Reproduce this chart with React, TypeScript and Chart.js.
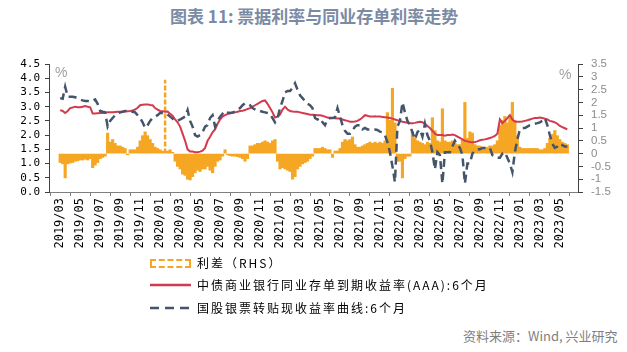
import React, { useEffect, useRef } from 'react';
import { Chart, registerables } from 'chart.js';

Chart.register(...registerables);

// x positions: quarter-month periods starting 2019/03
const PERIODS_PER_MONTH = 4;

const tickLabels = [
  '2019/03', '2019/05', '2019/07', '2019/09', '2019/11',
  '2020/01', '2020/03', '2020/05', '2020/07', '2020/09', '2020/11',
  '2021/01', '2021/03', '2021/05', '2021/07', '2021/09', '2021/11',
  '2022/01', '2022/03', '2022/05', '2022/07', '2022/09', '2022/11',
  '2023/01', '2023/03', '2023/05',
];

// 中债商业银行同业存单到期收益率(AAA):6个月 (%), 4 points per month
const cdRate = [
  2.88, 2.85, 2.78, 2.85, // 2019/03
  2.95, 2.97, 3.0, 2.98,
  2.98, 3.0, 3.02, 3.0,
  2.98, 2.76, 2.76, 2.77,
  2.78, 2.78, 2.79, 2.8,
  2.8, 2.8, 2.81, 2.82,
  2.82, 2.82, 2.83, 2.84,
  2.85, 2.87, 2.9, 2.96,
  3.05, 3.07, 3.08, 3.08,
  3.06, 3.05, 2.95, 2.9,
  2.85, 2.84, 2.82, 2.83, // 2020/01
  2.75, 2.68, 2.55, 2.45,
  2.3, 2.05, 1.8, 1.5,
  1.42, 1.42, 1.4, 1.4,
  1.42, 1.45, 1.55, 1.8,
  1.94, 2.1, 2.2, 2.4,
  2.55, 2.65, 2.7, 2.74,
  2.77, 2.78, 2.8, 2.82,
  2.85, 2.86, 2.88, 2.92,
  2.95, 3.0, 3.05, 3.1,
  3.15, 3.2, 3.22, 3.1,
  2.95, 2.8, 2.62, 2.65,
  2.72, 2.9, 3.0, 2.9, // 2021/01
  2.85, 2.83, 2.82, 2.82,
  2.8, 2.78, 2.76, 2.74,
  2.72, 2.72, 2.71, 2.7,
  2.7, 2.68, 2.65, 2.62,
  2.6, 2.6, 2.59, 2.58,
  2.58, 2.55, 2.52, 2.5,
  2.47, 2.47, 2.48, 2.5,
  2.55, 2.62, 2.7, 2.68,
  2.65, 2.65, 2.66, 2.65,
  2.65, 2.64, 2.63, 2.62,
  2.6, 2.58, 2.55, 2.52,
  2.5, 2.47, 2.45, 2.43, // 2022/01
  2.42, 2.42, 2.43, 2.45,
  2.47, 2.45, 2.4, 2.32,
  2.25, 2.15, 2.05, 2.0,
  2.0, 2.0, 1.98, 2.0,
  2.0, 2.02, 2.0, 1.95,
  1.9, 1.85, 1.8, 1.78,
  1.76, 1.75, 1.76, 1.78,
  1.82, 1.84, 1.85, 1.87,
  1.9, 1.93, 1.97, 2.05,
  2.55, 2.42, 2.5, 2.6,
  2.7, 2.55, 2.48, 2.47,
  2.47, 2.48, 2.5, 2.52, // 2023/01
  2.55, 2.58, 2.6, 2.6,
  2.62, 2.6, 2.58, 2.55,
  2.5, 2.48, 2.45, 2.4,
  2.32, 2.28, 2.24, 2.2,
];

// 国股银票转贴现收益率曲线:6个月 (%)
const billRate = [
  3.3, 3.28, 3.7, 3.35, // 2019/03
  3.35, 3.35, 3.33, 3.3,
  3.25, 3.22, 3.2, 3.2,
  3.18, 3.2, 3.25, 3.1,
  2.85, 2.82, 2.8, 2.3,
  2.5, 2.6, 2.7, 2.75,
  2.8, 2.82, 2.85, 2.85,
  2.85, 2.82, 2.8, 2.7,
  2.6, 2.45, 2.25, 2.35,
  2.5, 2.6, 2.65, 2.7,
  2.78, 2.78, 2.78, 2.72, // 2020/01
  2.65, 2.58, 2.5, 2.5,
  2.55, 2.6, 2.65, 2.88,
  2.5, 2.3, 2.0, 1.95,
  2.0, 2.1, 2.3, 2.35,
  2.6, 2.7, 2.3, 2.5,
  2.65, 2.75, 2.85, 2.8,
  2.78, 2.8, 2.82, 2.88,
  2.95, 3.05, 3.12, 3.1,
  3.05, 2.95, 2.9, 2.85,
  2.85, 2.82, 2.8, 2.78,
  2.75, 2.6, 2.45, 2.6,
  2.95, 3.2, 3.5, 3.55, // 2021/01
  3.55, 3.65, 3.82, 3.6,
  3.4, 3.3, 3.2, 3.1,
  3.05, 2.95, 2.6, 2.55,
  2.6, 2.45, 2.35, 2.55,
  2.6, 2.6, 2.62, 2.95,
  2.65, 2.35, 2.15, 2.05,
  2.05, 2.15, 2.3, 2.35,
  2.35, 2.2, 2.25, 2.2,
  2.2, 2.2, 2.2, 2.18,
  2.12, 2.1, 2.0, 1.75,
  1.4, 0.9, 0.35, 2.3,
  2.5, 3.15, 2.8, 2.5, // 2022/01
  2.35, 2.1, 1.85, 2.1,
  2.2, 1.95, 2.4, 2.0,
  1.8, 1.4, 0.8, 1.4,
  1.3, 0.3, 1.4, 1.4,
  1.4, 1.6, 1.8, 1.65,
  1.55, 1.3, 0.3, 1.0,
  1.0, 1.35, 1.45, 1.5,
  1.5, 1.55, 1.55, 1.55,
  1.55, 1.3, 1.25, 1.2,
  1.2, 1.35, 1.4, 1.2,
  1.0, 0.7, 1.4, 1.85,
  2.2, 2.25, 2.25, 2.3, // 2023/01
  2.35, 2.38, 2.4, 2.42,
  2.45, 2.5, 2.6, 2.35,
  2.0, 1.7, 1.55, 1.6,
  1.7, 1.65, 1.6, 1.6,
];

// 利差 (RHS, %)
const spread = [
  -0.35, -0.4, -0.95, -0.4, // 2019/03
  -0.37, -0.35, -0.3, -0.28,
  -0.25, -0.25, -0.22, -0.25,
  -0.2, -0.55, -0.45, -0.35,
  -0.2, -0.15, -0.1, 0.8,
  0.45, 0.55, 0.4, 0.3,
  0.3, 0.25, 0.2, -0.05,
  0.15, 0.15, 0.15, 0.25,
  0.5, 0.7, 0.85, 0.7,
  0.55, 0.4, 0.25, 0.2,
  0.15, 0.1, 2.88, 0.1, // 2020/01
  0.15, 0.05, -0.3, -0.5,
  -0.6, -0.8, -0.85, -1.0,
  -1.03, -0.9, -0.75, -0.65,
  -0.7, -0.6, -0.6, -0.5,
  -0.65, -0.75, -0.5, -0.3,
  -0.25, -0.1, 0.15, -0.05,
  -0.08, -0.1, -0.1, -0.12,
  -0.15, -0.2, -0.3, -0.2,
  0.3, 0.3, 0.35, 0.4,
  0.4, 0.45, 0.5, 0.45,
  0.4, 0.5, 0.55, -0.3,
  -0.6, -0.55, -0.6, -0.65, // 2021/01
  -0.7, -1.0, -0.9, -0.6,
  -0.5, -0.4, -0.35, -0.3,
  -0.2, -0.1, 0.2, 0.2,
  0.2, 0.25, 0.2, 0.15,
  0.15, -0.15, 0.1, 0.1,
  0.2, 0.45, 0.55, 0.5,
  0.55, 0.65, 0.35, 0.25,
  0.25, 0.3, 0.35, 0.4,
  0.45, 0.4, 0.45, 0.4,
  0.45, 0.4, 0.5, 1.6,
  1.3, 2.55, 1.2, -0.3,
  -0.3, -0.95, -0.2, -0.1, // 2022/01
  -0.1, 0.85, 0.6, 0.5,
  0.45, 0.4, 0.35, 0.45,
  0.4, 1.4, 0.9, 0.5,
  0.45, 1.75, 0.5, 0.45,
  0.45, 0.5, 0.4, 0.35,
  0.35, 0.55, 2.0, 0.6,
  0.85, 0.8, 0.35, 0.3,
  0.3, 0.25, 0.25, 0.25,
  0.3, 0.3, 0.35, 0.5,
  1.1, 1.3, 1.45, 1.2,
  1.5, 2.0, 1.3, 0.7,
  0.25, 0.2, 0.2, 0.2, // 2023/01
  0.2, 0.2, 0.2, 0.2,
  0.15, 0.15, 0.2, 0.4,
  0.6, 0.75, 0.9, 0.7,
  0.55, 0.45, 0.4, 0.35,
];

const ORANGE = '#f5a623';
const RED = '#d43a4e';
const BLUE = '#44546a';
const SPIKE_LIMIT = 2.7; // isolated spike drawn as dashed bar

const toPoints = (arr: number[]) => arr.map((v, i) => ({ x: i / PERIODS_PER_MONTH, y: v }));

export default function App() {
  const ref = useRef<HTMLCanvasElement>(null);

  useEffect(() => {
    if (!ref.current) return;
    const spikeIdx = spread.findIndex((v) => v > SPIKE_LIMIT);
    const spikeData =
      spikeIdx >= 0
        ? [
            { x: spikeIdx / PERIODS_PER_MONTH, y: 0 },
            { x: spikeIdx / PERIODS_PER_MONTH, y: spread[spikeIdx] },
          ]
        : [];
    const chart = new Chart(ref.current, {
      type: 'bar',
      data: {
        datasets: [
          {
            type: 'line',
            label: 'spike',
            data: spikeData,
            yAxisID: 'y1',
            borderColor: ORANGE,
            borderWidth: 2.5,
            borderDash: [5, 2],
            pointRadius: 0,
            order: 4,
          } as any,
          {
            type: 'bar',
            label: '利差（RHS）',
            data: toPoints(spread),
            yAxisID: 'y1',
            backgroundColor: (ctx: any) =>
              ctx.raw && ctx.raw.y > SPIKE_LIMIT ? 'rgba(0,0,0,0)' : ORANGE,
            borderWidth: 0,
            barPercentage: 1,
            categoryPercentage: 1,
            order: 3,
          },
          {
            type: 'line',
            label: '中债商业银行同业存单到期收益率(AAA):6个月',
            data: toPoints(cdRate),
            yAxisID: 'y',
            borderColor: RED,
            borderWidth: 2,
            pointRadius: 0,
            tension: 0,
            order: 2,
          } as any,
          {
            type: 'line',
            label: '国股银票转贴现收益率曲线:6个月',
            data: toPoints(billRate),
            yAxisID: 'y',
            borderColor: BLUE,
            borderWidth: 2.5,
            borderDash: [8, 5],
            pointRadius: 0,
            tension: 0,
            order: 1,
          } as any,
        ],
      },
      options: {
        responsive: false,
        animation: false,
        layout: { padding: { top: 64, left: 0, right: 0, bottom: 0 } },
        plugins: { legend: { display: false }, tooltip: { enabled: false } },
        scales: {
          x: {
            type: 'linear',
            min: -0.1,
            max: 50.8,
            ticks: {
              stepSize: 2,
              includeBounds: false,
              autoSkip: false,
              maxRotation: 90,
              minRotation: 90,
              padding: 2,
              color: '#000',
              font: { family: 'DejaVu Sans Mono', size: 12 },
              callback: (v: any) => tickLabels[Math.round(Number(v) / 2)] ?? '',
            },
            grid: { drawOnChartArea: false, tickLength: 4, color: '#7f7f7f' },
            border: { color: '#7f7f7f' },
            afterFit: (s: any) => {
              s.height = 68;
            },
          },
          y: {
            position: 'left',
            min: 0,
            max: 4.5,
            ticks: {
              stepSize: 0.5,
              autoSkip: false,
              padding: 5,
              color: '#000',
              font: { family: 'DejaVu Sans Mono', size: 11 },
              callback: (v: any) => Number(v).toFixed(1),
            },
            grid: { drawOnChartArea: false, tickLength: 4, color: '#404040' },
            border: { color: '#404040' },
            afterFit: (s: any) => {
              s.width = 49;
            },
          },
          y1: {
            position: 'right',
            min: -1.5,
            max: 3.5,
            ticks: {
              stepSize: 0.5,
              autoSkip: false,
              padding: 8,
              color: '#8c8c8c',
              font: { family: 'Liberation Sans', size: 11.5 },
              callback: (v: any) => String(Math.round(Number(v) * 10) / 10),
            },
            grid: { drawOnChartArea: false, tickLength: 5, color: '#404040' },
            border: { color: '#404040' },
            afterFit: (s: any) => {
              s.width = 49;
            },
          },
        },
      } as any,
    });
    return () => chart.destroy();
  }, []);

  const legendText: React.CSSProperties = {
    position: 'absolute',
    left: 197,
    fontFamily: '"Noto Sans CJK SC", sans-serif',
    fontSize: 12,
    letterSpacing: 2,
    color: '#000',
    lineHeight: '14px',
    whiteSpace: 'nowrap',
  };

  return (
    <div
      style={{
        position: 'fixed',
        left: 0,
        top: 0,
        width: 627,
        height: 352,
        background: '#fff',
        overflow: 'hidden',
      }}
    >
      <div
        style={{
          position: 'absolute',
          left: 170,
          top: 5,
          fontFamily: '"Noto Sans CJK SC", sans-serif',
          fontWeight: 700,
          fontSize: 17,
          color: '#7b8ba4',
          whiteSpace: 'nowrap',
          lineHeight: '22px',
        }}
      >
        图表 11: 票据利率与同业存单利率走势
      </div>
      <canvas
        ref={ref}
        width={627}
        height={260}
        style={{ position: 'absolute', left: 0, top: 0, width: 627, height: 260 }}
      />
      <div
        style={{
          position: 'absolute',
          left: 55,
          top: 64,
          fontFamily: '"Liberation Sans", sans-serif',
          fontSize: 14,
          color: '#a0a0a0',
        }}
      >
        %
      </div>
      <div
        style={{
          position: 'absolute',
          left: 559,
          top: 66,
          fontFamily: '"Liberation Sans", sans-serif',
          fontSize: 14,
          color: '#a0a0a0',
        }}
      >
        %
      </div>
      {/* legend */}
      <div
        style={{
          position: 'absolute',
          left: 150,
          top: 259,
          width: 37,
          height: 5,
          border: `2px dashed ${ORANGE}`,
        }}
      />
      <div style={{ ...legendText, top: 256 }}>利差（RHS）</div>
      <svg style={{ position: 'absolute', left: 150, top: 280 }} width={42} height={10}>
        <line x1={0} y1={5} x2={41} y2={5} stroke={RED} strokeWidth={2.5} />
      </svg>
      <div style={{ ...legendText, top: 278 }}>中债商业银行同业存单到期收益率(AAA):6个月</div>
      <svg style={{ position: 'absolute', left: 150, top: 303 }} width={42} height={10}>
        <line
          x1={0}
          y1={5}
          x2={41}
          y2={5}
          stroke={BLUE}
          strokeWidth={2.5}
          strokeDasharray="9 6"
        />
      </svg>
      <div style={{ ...legendText, top: 301 }}>国股银票转贴现收益率曲线:6个月</div>
      <div
        style={{
          position: 'absolute',
          left: 463,
          top: 328,
          fontFamily: '"Noto Sans CJK SC", sans-serif',
          fontSize: 13,
          color: '#7f7f7f',
          whiteSpace: 'nowrap',
          lineHeight: '16px',
        }}
      >
        资料来源：Wind, 兴业研究
      </div>
    </div>
  );
}
